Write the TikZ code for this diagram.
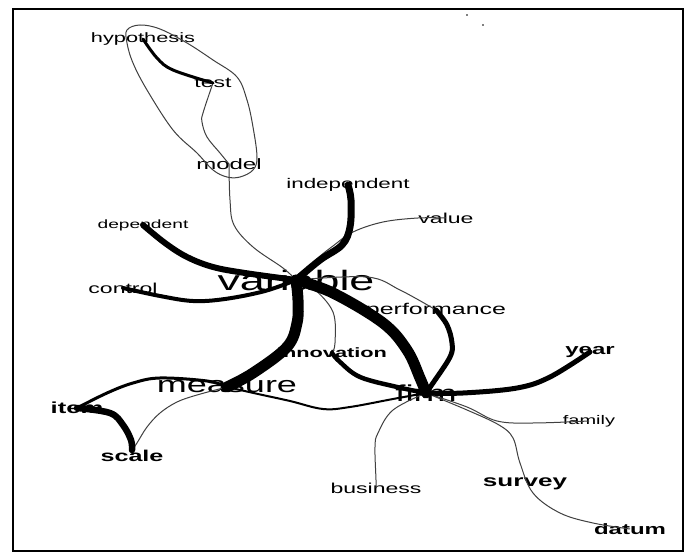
\documentclass[tikz,border=0pt]{standalone}
\usepackage{fontspec}
\newfontfamily\wordfont[FakeStretch=1.6]{Liberation Sans}
\tikzset{
  word/.style={inner sep=0pt, font=\wordfont\fontsize{#1}{#1}\selectfont},
  bword/.style={inner sep=0pt, font=\wordfont\bfseries\fontsize{#1}{#1}\selectfont},
  thinlink/.style={draw=black!75, line width=1pt, line join=round},
  link/.style={draw=black, line width=#1, line cap=round, line join=round},
}
\begin{document}
\begin{tikzpicture}[x=1pt, y=-1pt]
\useasboundingbox (0,0) rectangle (689,556);
\fill[white] (0,0) rectangle (689,556);

% terms
\node[word=13.6] (hyp) at (143,39) {hypothesis};
\node[word=14.4] (test) at (213,83) {test};
\node[word=15] (model) at (229,164) {model};
\node[word=14] (indep) at (348,185) {independent};
\node[word=14.4] (value) at (446,218) {value};
\node[word=12] (dep) at (143,225) {dependent};
\node[word=14.4] (control) at (123,288) {control};
\node[word=28] (variable) at (296,280) {variable};
\node[word=15.6] (perf) at (436,310) {performance};
\node[bword=13.6] (innov) at (332,353) {innovation};
\node[word=22.5] (measure) at (227,387) {measure};
\node[bword=16] (item) at (77,408) {item};
\node[bword=15.7] (scale) at (132,456) {scale};
\node[bword=15] (year) at (590,352) {year};
\node[word=23] (firm) at (426,393) {firm};
\node[word=12.5] (family) at (589,421) {family};
\node[word=14.4] (business) at (376,488) {business};
\node[bword=16.3] (survey) at (525,484) {survey};
\node[bword=15] (datum) at (630,529) {datum};

% cluster hull around hypothesis, test and model
\draw[thinlink] plot[smooth cycle, tension=0.6] coordinates {
  (127,30) (140,25) (160,29) (187,43) (213,60) (237,77) (247,100)
  (253,127) (257,157) (253,170) (240,177) (227,177) (213,170)
  (197,153) (173,130) (147,90) (133,63) (127,43)};

% weak links
\draw[thinlink] plot[smooth, tension=0.6] coordinates {(test.center) (203,113) (202,122) (207,137) (220,153) (model.center)};
\draw[thinlink] plot[smooth, tension=0.6] coordinates {(model.center) (230,200) (234,225) (253,247) (283,268) (variable.center)};
\draw[thinlink] plot[smooth, tension=0.6] coordinates {(value.center) (418,218) (383,222) (353,232) (333,246) (318,258) (variable.center)};
\draw[thinlink] plot[smooth, tension=0.6] coordinates {(variable.center) (367,277) (400,290) (perf.center)};
\draw[thinlink] plot[smooth, tension=0.6] coordinates {(variable.center) (313,288) (333,312) (335,343) (innov.center)};
\draw[thinlink] plot[smooth, tension=0.6] coordinates {(measure.center) (197,395) (177,402) (160,413) (147,427) (137,443) (scale.north)};
\draw[thinlink] plot[smooth, tension=0.6] coordinates {(firm.center) (393,410) (378,433) (375,447) (376,480) (business.center)};
\draw[thinlink] plot[smooth, tension=0.6] coordinates {(firm.center) (467,407) (497,421) (533,423) (family.center)};
\draw[thinlink] plot[smooth, tension=0.6] coordinates {(firm.center) (467,410) (499,425) (513,438) (520,463) (533,493) (560,513) (593,523) (datum.center)};

% strong links
\draw[link=3pt] plot[smooth, tension=0.6] coordinates {(hyp.center) (157,58) (173,70) (test.center)};
\draw[link=6pt] plot[smooth, tension=0.6] coordinates {(dep.center) (165,243) (187,257) (213,267) (245,273) (variable.center)};
\draw[link=4pt] plot[smooth, tension=0.6] coordinates {(control.center) (160,296) (193,301) (225,299) (265,291) (variable.center)};
\draw[link=7pt] plot[smooth, tension=0.6] coordinates {(indep.center) (351,200) (350,227) (342,245) (320,260) (variable.center)};
\draw[link=11pt] plot[smooth, tension=0.6] coordinates {(variable.center) (298,300) (297,323) (287,347) (253,373) (measure.center)};
\draw[link=11pt] plot[smooth, tension=0.6] coordinates {(variable.center) (333,293) (383,323) (407,350) (420,378) (firm.center)};
\draw[link=5pt] plot[smooth, tension=0.6] coordinates {(perf.center) (447,325) (452,343) (450,357) (433,383) (firm.center)};
\draw[link=4.5pt] plot[smooth, tension=0.6] coordinates {(innov.center) (340,362) (360,377) (397,387) (firm.center)};
\draw[link=5pt] plot[smooth, tension=0.6] coordinates {(firm.center) (463,393) (517,388) (550,377) (year.center)};
\draw[link=2pt] plot[smooth, tension=0.6] coordinates {(measure.center) (258,394) (290,401) (323,409) (350,407) (393,399) (firm.center)};
\draw[link=3pt] plot[smooth, tension=0.6] coordinates {(measure.center) (207,381) (160,378) (133,383) (107,393) (item.center)};
\draw[link=6.5pt] plot[smooth, tension=0.6] coordinates {(item.center) (110,413) (123,425) (131,440) (scale.north)};

% frame
\draw[line width=2pt] (13,9) rectangle (683,551);
\fill[black!50] (466,14) rectangle (468,16);
\fill[black!50] (482,24) rectangle (484,26);
\end{tikzpicture}
\end{document}
